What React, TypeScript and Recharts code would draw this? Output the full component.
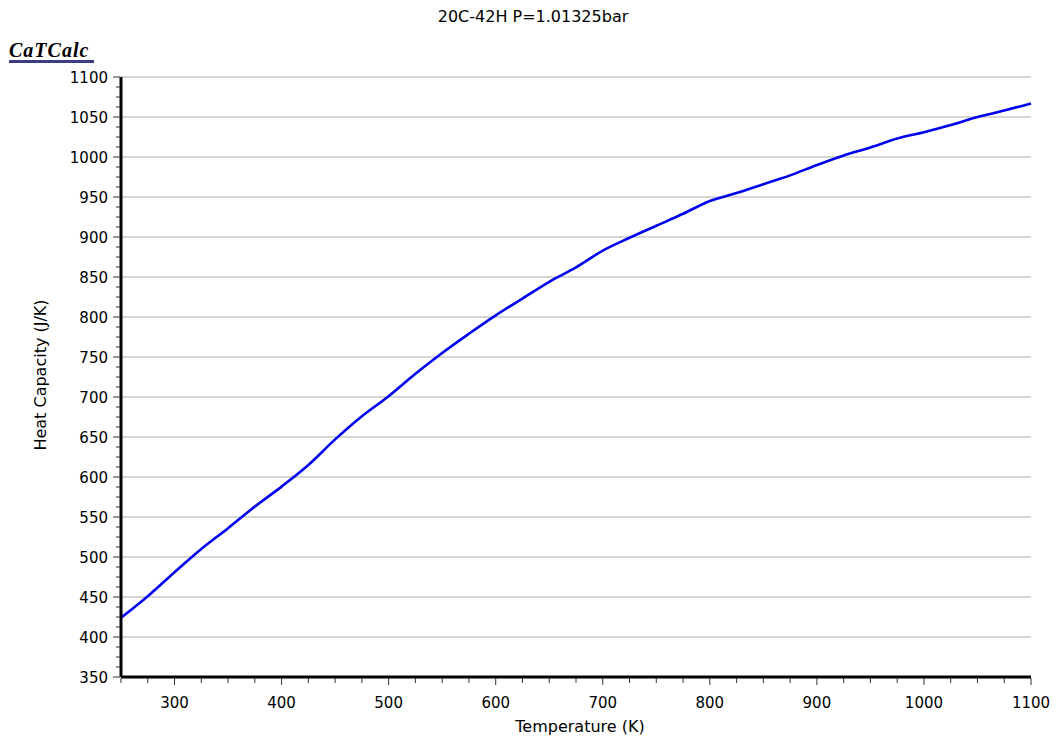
import React from 'react';
import { LineChart, Line, XAxis, YAxis, ReferenceLine } from 'recharts';

const temperatures = [
  250, 275, 300, 325, 350, 375, 400, 425, 450, 475, 500, 525, 550, 575, 600, 625, 650, 675,
  700, 725, 750, 775, 800, 825, 850, 875, 900, 925, 950, 975, 1000, 1025, 1050, 1075, 1100,
];
const heatCapacity = [
  424, 451, 481, 510, 536, 563, 588, 615, 647, 676, 701, 729, 755, 779, 802, 823, 844, 862,
  883, 899, 914, 929, 945, 955, 966, 977, 990, 1002, 1012, 1023, 1031, 1040, 1050, 1058, 1067,
];

const xTicks = [
  250, 275, 300, 325, 350, 375, 400, 425, 450, 475, 500, 525, 550, 575, 600, 625, 650, 675,
  700, 725, 750, 775, 800, 825, 850, 875, 900, 925, 950, 975, 1000, 1025, 1050, 1075, 1100,
];
const xLabels = [300, 400, 500, 600, 700, 800, 900, 1000, 1100];
const yTicks = [
  350, 362.5, 375, 387.5, 400, 412.5, 425, 437.5, 450, 462.5, 475, 487.5, 500, 512.5, 525, 537.5,
  550, 562.5, 575, 587.5, 600, 612.5, 625, 637.5, 650, 662.5, 675, 687.5, 700, 712.5, 725, 737.5,
  750, 762.5, 775, 787.5, 800, 812.5, 825, 837.5, 850, 862.5, 875, 887.5, 900, 912.5, 925, 937.5,
  950, 962.5, 975, 987.5, 1000, 1012.5, 1025, 1037.5, 1050, 1062.5, 1075, 1087.5, 1100,
];
const yLabels = [350, 400, 450, 500, 550, 600, 650, 700, 750, 800, 850, 900, 950, 1000, 1050, 1100];
const gridValues = [400, 450, 500, 550, 600, 650, 700, 750, 800, 850, 900, 950, 1000, 1050, 1100];

const data = temperatures.map((t, i) => ({ t, cp: heatCapacity[i] }));

const font = '"DejaVu Sans", sans-serif';

function XTick({ x, y, payload }: any) {
  const major = xLabels.includes(payload.value);
  return (
    <g>
      <line x1={x} x2={x} y1={y + 1} y2={y + (major ? 8 : 6)} stroke="#333" strokeWidth={1} />
      {major && (
        <text x={x} y={y + 31} textAnchor="middle" fontSize={15} fontFamily={font} fill="#000">
          {payload.value}
        </text>
      )}
    </g>
  );
}

function YTick({ x, y, payload }: any) {
  const major = yLabels.includes(payload.value);
  return (
    <g>
      <line x1={x - (major ? 8 : 5)} x2={x - 1} y1={y} y2={y} stroke="#333" strokeWidth={1} />
      {major && (
        <text x={x - 13} y={y + 6} textAnchor="end" fontSize={15} fontFamily={font} fill="#000">
          {payload.value}
        </text>
      )}
    </g>
  );
}

export default function App() {
  return (
    <div style={{ position: 'absolute', left: 0, top: 0, width: 1061, height: 740, background: '#fff' }}>
      <LineChart
        width={1061}
        height={740}
        data={data}
        margin={{ top: 77, right: 30, left: 51, bottom: 23 }}
      >
        {gridValues.map((v) => (
          <ReferenceLine key={v} y={v} stroke="#c8c8c8" strokeWidth={1.5} />
        ))}
        <XAxis
          dataKey="t"
          type="number"
          domain={[250, 1100]}
          ticks={xTicks}
          interval={0}
          height={40}
          tickSize={0}
          tickMargin={0}
          tickLine={false}
          tick={<XTick />}
          axisLine={{ stroke: '#000', strokeWidth: 3 }}
        />
        <YAxis
          type="number"
          domain={[350, 1100]}
          ticks={yTicks}
          interval={0}
          width={70}
          tickSize={0}
          tickMargin={0}
          tickLine={false}
          tick={<YTick />}
          axisLine={{ stroke: '#000', strokeWidth: 3 }}
        />
        <Line
          type="monotone"
          dataKey="cp"
          stroke="#0000f0"
          strokeWidth={2.6}
          dot={false}
          isAnimationActive={false}
        />
      </LineChart>
      <svg
        width={1061}
        height={740}
        style={{ position: 'absolute', left: 0, top: 0, pointerEvents: 'none' }}
      >
        <text x={533} y={22} textAnchor="middle" fontSize={16} fontFamily={font} fill="#000">
          20C-42H P=1.01325bar
        </text>
        <text
          x={9}
          y={57}
          fontSize={20}
          fontFamily='"Liberation Serif", serif'
          fontWeight="bold"
          fontStyle="italic"
          letterSpacing={1}
          fill="#000"
        >
          CaTCalc
        </text>
        <rect x={9} y={60} width={85} height={3} fill="#3c3c82" />
        <text x={580} y={732} textAnchor="middle" fontSize={16} fontFamily={font} fill="#000">
          Temperature (K)
        </text>
        <text
          x={46}
          y={375}
          textAnchor="middle"
          fontSize={16}
          fontFamily={font}
          fill="#000"
          transform="rotate(-90 46 375)"
        >
          Heat Capacity (J/K)
        </text>
      </svg>
    </div>
  );
}
